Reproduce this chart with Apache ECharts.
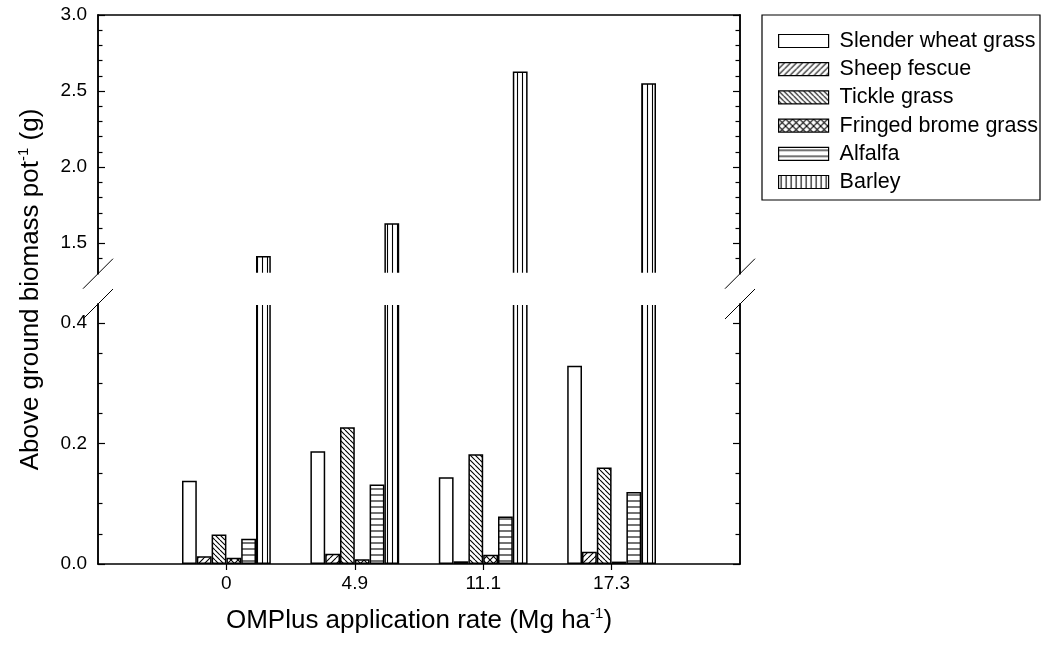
<!DOCTYPE html>
<html><head><meta charset="utf-8">
<script src="https://cdn.jsdelivr.net/npm/echarts@6/dist/echarts.min.js"></script>
<style>html,body{margin:0;padding:0;background:#fff}#c{width:1044px;height:662px}</style>
</head><body><div id="c"></div>
<script>
// ---- data ----
const categories = ['0', '4.9', '11.1', '17.3'];
const speciesNames = ['Slender wheat grass', 'Sheep fescue', 'Tickle grass', 'Fringed brome grass', 'Alfalfa', 'Barley'];
const slenderWheatGrass = [0.138, 0.187, 0.144, 0.329];
const sheepFescue = [0.013, 0.017, 0.0045, 0.0205];
const tickleGrass = [0.049, 0.227, 0.182, 0.160];
const fringedBromeGrass = [0.0105, 0.008, 0.0155, 0.004];
const alfalfa = [0.042, 0.132, 0.079, 0.1195];
const barley = [1.417, 1.631, 2.628, 2.551];
const upperTickLabels = [1.5, 2.0, 2.5, 3.0];
const upperMinorTicks = [1.4, 1.6, 1.7, 1.8, 1.9, 2.1, 2.2, 2.3, 2.4, 2.6, 2.7, 2.8, 2.9];
const lowerTickLabels = [0.0, 0.2, 0.4];
const lowerMinorTicks = [0.05, 0.1, 0.15, 0.25, 0.3, 0.35];
const UPPER_MIN = 1.3, UPPER_MAX = 3.0, LOWER_MIN = 0, LOWER_MAX = 0.4315;

// ---- layout ----
const PL = 98, PR = 740, UT = 15, UB = 273.7, LT = 304, LB = 564;
const FONT = '"Liberation Sans", Arial, Helvetica, sans-serif';

const seriesValues = [slenderWheatGrass, sheepFescue, tickleGrass, fringedBromeGrass, alfalfa, barley];
const axisCats = [''].concat(categories, ['']);
const pad = arr => [null].concat(arr, [null]);

// ---- patterns ----
function tile(w, h, draw) {
  const c = document.createElement('canvas');
  c.width = w; c.height = h;
  const g = c.getContext('2d');
  g.fillStyle = '#fff'; g.fillRect(0, 0, w, h);
  g.strokeStyle = '#000'; g.lineWidth = 1.1;
  draw(g, w, h);
  return { image: c, repeat: 'repeat' };
}
function fwd(g, s) { g.beginPath(); for (let k = -1; k <= 1; k++) { g.moveTo(k * s, s); g.lineTo(k * s + s, 0); } g.stroke(); }
function back(g, s) { g.beginPath(); for (let k = -1; k <= 1; k++) { g.moveTo(k * s, 0); g.lineTo(k * s + s, s); } g.stroke(); }
const fills = [
  '#ffffff',
  tile(6, 6, g => fwd(g, 6)),
  tile(5, 5, g => back(g, 5)),
  tile(7, 7, g => { fwd(g, 7); back(g, 7); }),
  tile(4, 6, g => { g.beginPath(); g.moveTo(0, 3); g.lineTo(4, 3); g.stroke(); }),
  tile(5, 4, g => { g.beginPath(); g.moveTo(2.5, 0); g.lineTo(2.5, 4); g.stroke(); })
];

const chart = echarts.init(document.getElementById('c'), null, { renderer: 'canvas' });

const axisLineStyle = { color: '#000', width: 1.5 };
function yAx(grid, min, max, pos, ticks, len, labels) {
  return {
    type: 'value', gridIndex: grid, min: min, max: max, position: pos,
    splitLine: { show: false },
    axisLine: { show: true, onZero: false, lineStyle: axisLineStyle },
    axisTick: { show: true, inside: true, length: len, customValues: ticks, lineStyle: { color: '#000', width: 1.2 } },
    axisLabel: labels ? { show: true, customValues: ticks, formatter: v => v.toFixed(1), color: '#000', fontSize: 19, fontFamily: FONT, margin: 11 } : { show: false }
  };
}

const series = [];
[0, 1].forEach(g => {
  speciesNames.forEach((name, i) => {
    series.push({
      type: 'bar', name: name, xAxisIndex: g, yAxisIndex: g * 4,
      data: pad(seriesValues[i]), barWidth: 14.8, barGap: '0%', clip: true,
      itemStyle: { color: fills[i], borderColor: '#000', borderWidth: 1.5 },
      silent: true
    });
  });
});

const breakLines = [];
[PL, PR].forEach(x => {
  [UB, LT].forEach(y => {
    breakLines.push({ type: 'line', z: 20, shape: { x1: x - 15, y1: y + 15, x2: x + 15, y2: y - 15 }, style: { stroke: '#000', lineWidth: 1 }, silent: true });
  });
});

const supRich = (size) => ({
  n: { fontSize: size, fontFamily: FONT, color: '#000', fill: '#000', lineHeight: 30 },
  s: { fontSize: 15, fontFamily: FONT, color: '#000', fill: '#000', verticalAlign: 'top', lineHeight: 16 }
});

const option = {
  animation: false,
  backgroundColor: '#fff',
  textStyle: { fontFamily: FONT },
  grid: [
    { left: PL, width: PR - PL, top: UT, height: UB - UT, containLabel: false },
    { left: PL, width: PR - PL, top: LT, height: LB - LT, containLabel: false }
  ],
  xAxis: [
    { type: 'category', gridIndex: 0, data: axisCats, boundaryGap: false, position: 'top',
      axisLine: { show: true, lineStyle: axisLineStyle }, axisTick: { show: false }, axisLabel: { show: false }, splitLine: { show: false } },
    { type: 'category', gridIndex: 1, data: axisCats, boundaryGap: false, position: 'bottom',
      axisLine: { show: true, onZero: false, lineStyle: axisLineStyle },
      axisTick: { show: true, inside: false, length: 6, interval: (i, v) => v !== '', lineStyle: { color: '#000', width: 1.2 } },
      axisLabel: { show: true, interval: 0, color: '#000', fontSize: 19, fontFamily: FONT, margin: 10 },
      splitLine: { show: false },
      name: '{n|OMPlus application rate (Mg ha}{s|-1}{n|)}', nameLocation: 'middle', nameGap: 42,
      nameTextStyle: { rich: supRich(26) } }
  ],
  yAxis: [
    yAx(0, UPPER_MIN, UPPER_MAX, 'left', upperTickLabels, 7, true),
    yAx(0, UPPER_MIN, UPPER_MAX, 'left', upperMinorTicks, 4.5, false),
    yAx(0, UPPER_MIN, UPPER_MAX, 'right', upperTickLabels, 7, false),
    yAx(0, UPPER_MIN, UPPER_MAX, 'right', upperMinorTicks, 4.5, false),
    yAx(1, LOWER_MIN, LOWER_MAX, 'left', lowerTickLabels, 7, true),
    yAx(1, LOWER_MIN, LOWER_MAX, 'left', lowerMinorTicks, 4.5, false),
    yAx(1, LOWER_MIN, LOWER_MAX, 'right', lowerTickLabels, 7, false),
    yAx(1, LOWER_MIN, LOWER_MAX, 'right', lowerMinorTicks, 4.5, false)
  ],
  legend: {
    data: speciesNames, orient: 'vertical', left: 778, top: 30, padding: 0,
    itemWidth: 50, itemHeight: 13, itemGap: 6.2, icon: 'rect',
    itemStyle: { borderColor: '#000', borderWidth: 1.2 },
    textStyle: { fontSize: 21.5, fontFamily: FONT, color: '#000', lineHeight: 22, padding: [0, 0, 0, 6] },
    selectedMode: false
  },
  graphic: [
    { type: 'rect', z: 10, shape: { x: 762, y: 15, width: 278, height: 185 }, style: { fill: 'none', stroke: '#000', lineWidth: 1.2 }, silent: true },
    { type: 'rect', z: 10, shape: { x: PL + 1, y: UB - 1, width: PR - PL - 2, height: LT - UB + 2 }, style: { fill: '#fff', stroke: null }, silent: true },
    { type: 'text', z: 10, x: 31, y: (UT + LB) / 2, rotation: Math.PI / 2, silent: true,
      style: { text: '{n|Above ground biomass pot}{s|-1}{n| (g)}', align: 'center', verticalAlign: 'middle', rich: supRich(26) } }
  ].concat(breakLines),
  series: series
};
chart.setOption(option);
</script>
</body></html>
